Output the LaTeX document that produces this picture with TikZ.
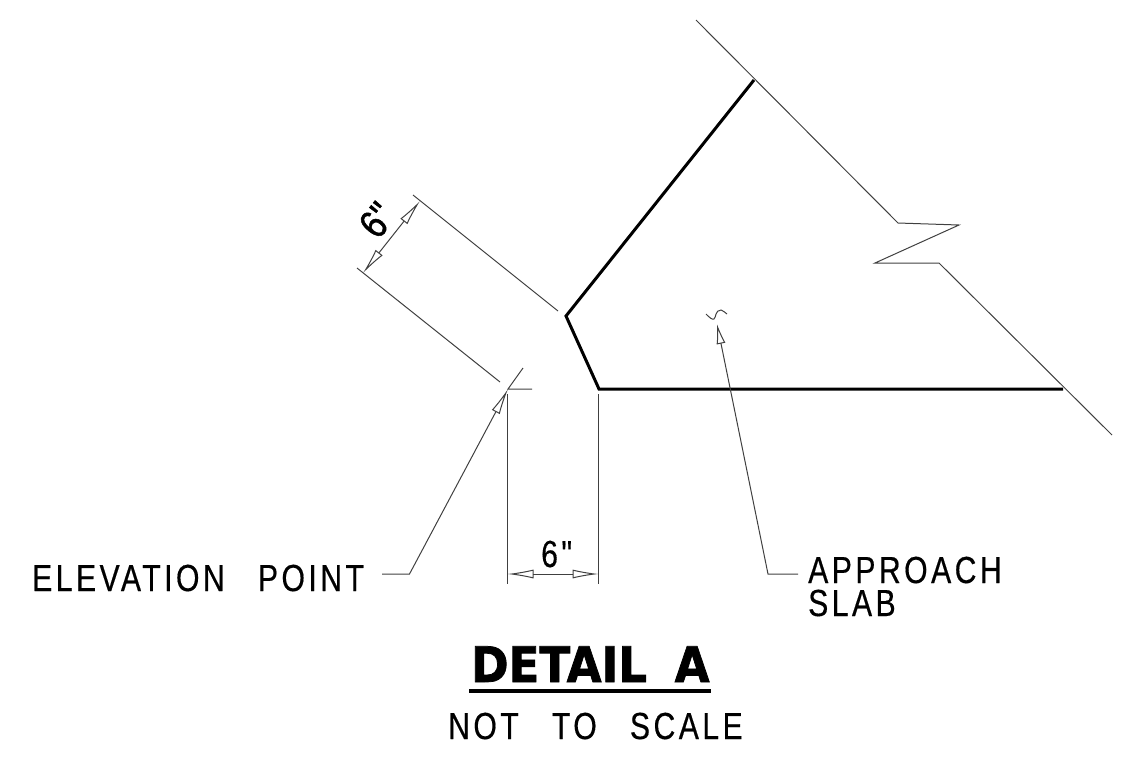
\documentclass[tikz,border=0pt]{standalone}
\usepackage{fontspec}
\usetikzlibrary{arrows.meta}
\newfontfamily\cadfont[FakeStretch=0.8,LetterSpace=9.2,WordSpace=2.8,FakeBold=0.4]{Liberation Sans}
\newfontfamily\dimfont[FakeStretch=0.85,FakeBold=1.2]{Liberation Sans}
\newfontfamily\titlefont[FakeStretch=0.92,FakeBold=1.5]{DejaVu Sans Bold}
\tikzset{
  thinline/.style={line width=1pt,black!75},
  slabline/.style={line width=3pt,black,line join=miter},
  cadtext/.style={inner sep=0pt,anchor=base west,font=\cadfont\fontsize{37.7}{33}\selectfont},
}
\begin{document}
\begin{tikzpicture}[>={Latex[open,length=26pt,width=9pt]},x=1pt,y=-1pt]
    \useasboundingbox (0,0) rectangle (1140,761);

    % break line
    \draw[thinline] (696,20) -- (898,223) -- (959,225) -- (875,263) -- (939,263) -- (1112,435);

    % slab edge
    \draw[slabline] (754,80) -- (566,316) -- (599,389) -- (1063,389);

    % offset at 6"
    \coordinate (upA) at (420,201);
    \coordinate (upB) at (363,273);
    \draw[thinline] (413,195) -- (558,311);
    \draw[thinline] (357,268) -- (500,382);
    \draw[thinline,<->] (upA) -- (upB);
    \node[inner sep=0pt,rotate=51.3,font=\dimfont\fontsize{40}{40}\selectfont] (offsetA) at (377,220) {6"};

    \coordinate (elev) at (508,389);
    \coordinate (sideA) at (507.5,574);
    \coordinate (sideB) at (598.5,574);
    \draw[thinline] (523,368) -- (elev) -- (532,389);
    \draw[thinline] (507.5,394) -- (507.5,584);
    \draw[thinline] (598.5,394) -- (598.5,584);
    \draw[thinline,<->] (sideA) -- (sideB);
    \node[cadtext] (offsetB) at (541,567) {6"};

    % leaders
    \node[cadtext] (elevtext) at (32,591) {ELEVATION POINT};
    \coordinate (elevbend) at (409.5,574);
    \draw[thinline,->] (382,574) -- (elevbend) -- (elev);

    \node[cadtext,align=left] (slabtext) at (808,616) {APPROACH\\SLAB};
    \coordinate (slabbend) at (768,574);
    \coordinate (slabtip) at (717,324);
    \draw[thinline,-{Latex[open,length=20pt,width=9pt]}] (798,574) -- (slabbend) -- (slabtip);
    \draw[thinline] (706,314) .. controls (709,317) and (712,320) .. (714,319)
      .. controls (716,318) and (715,310) .. (721,310)
      .. controls (723,310) and (725,313) .. (727,314);

    % title
    \node[inner sep=0pt,anchor=base west,font=\titlefont\fontsize{49}{50}\selectfont] (title) at (471,682) {DETAIL\hspace{12pt}\ A};
    \draw[line width=3.5pt] (469,691) -- (711,691);
    \node[cadtext] (scale) at (448,739) {NOT TO SCALE};
  \end{tikzpicture}
\end{document}
